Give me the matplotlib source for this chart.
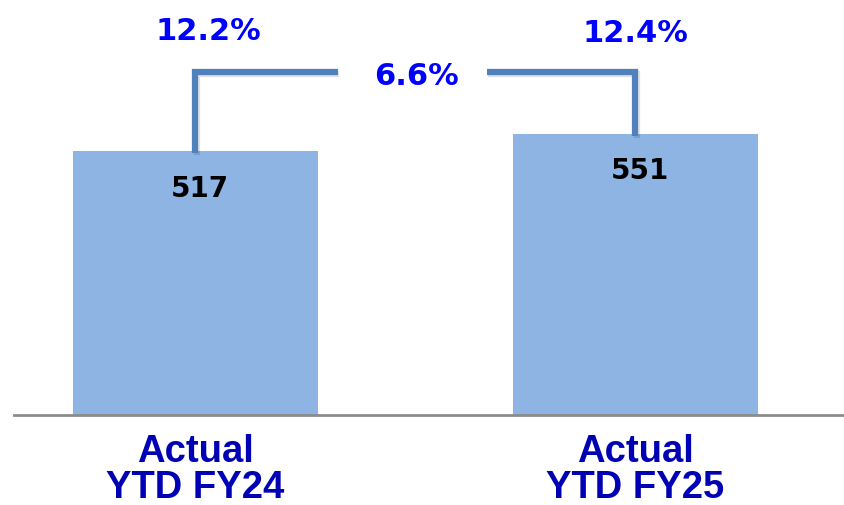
import matplotlib.pyplot as plt
import matplotlib.patheffects as pe

# data
categories = ["Actual\nYTD FY24", "Actual\nYTD FY25"]
values = [517, 551]
margin_labels = ["12.2%", "12.4%"]
growth_label = "6.6%"

BAR_COLOR = "#8eb4e3"
LINE_COLOR = "#4f81bd"
PCT_COLOR = "#0000ff"
CAT_COLOR = "#0000b4"

fig = plt.figure(figsize=(8.44, 5.05), dpi=100)
ax = fig.add_axes([14 / 844, 90 / 505, 830 / 844, 415 / 505])

x = list(range(len(values)))
ax.bar(x, values, width=0.557, color=BAR_COLOR, zorder=2)

ax.set_xlim(-0.4125, 1.474)
ax.set_ylim(0, 813)

# spines
for side in ["top", "right", "left"]:
    ax.spines[side].set_visible(False)
ax.spines["bottom"].set_color("#8c8c8c")
ax.spines["bottom"].set_linewidth(2)
ax.set_yticks([])

ax.set_xticks(x)
ax.set_xticklabels(categories, fontsize=27.5, fontweight="bold", color=CAT_COLOR,
                   family="Liberation Sans", linespacing=1.0)
ax.tick_params(axis="x", length=0, pad=14)

# value labels inside bars
for xi, v in zip(x, values):
    ax.annotate(str(v), (xi, v), xytext=(3, -27), textcoords="offset points",
                ha="center", va="center", fontsize=20, fontweight="bold",
                color="black", family="DejaVu Sans")

# bracket connector
bracket_y = 672
shadow = [pe.SimpleLineShadow(offset=(1, -1.5), alpha=0.12), pe.Normal()]
ax.plot([x[0], x[0], 0.324], [values[0] - 4, bracket_y, bracket_y],
        color=LINE_COLOR, lw=4.5, solid_joinstyle="miter", solid_capstyle="butt",
        path_effects=shadow, zorder=3)
ax.plot([0.662, x[1], x[1]], [bracket_y, bracket_y, values[1] - 4],
        color=LINE_COLOR, lw=4.5, solid_joinstyle="miter", solid_capstyle="butt",
        path_effects=shadow, zorder=3)

ax.text(0.503, bracket_y - 8, growth_label, ha="center", va="center", fontsize=22,
        fontweight="bold", color=PCT_COLOR, family="DejaVu Sans")

# margin labels above
for xi, lab, dx, yy in zip(x, margin_labels, [0.03, 0.0], [752, 748]):
    ax.text(xi + dx, yy, lab, ha="center", va="center", fontsize=22,
            fontweight="bold", color=PCT_COLOR, family="DejaVu Sans")

fig.savefig("out.png", dpi=100)
